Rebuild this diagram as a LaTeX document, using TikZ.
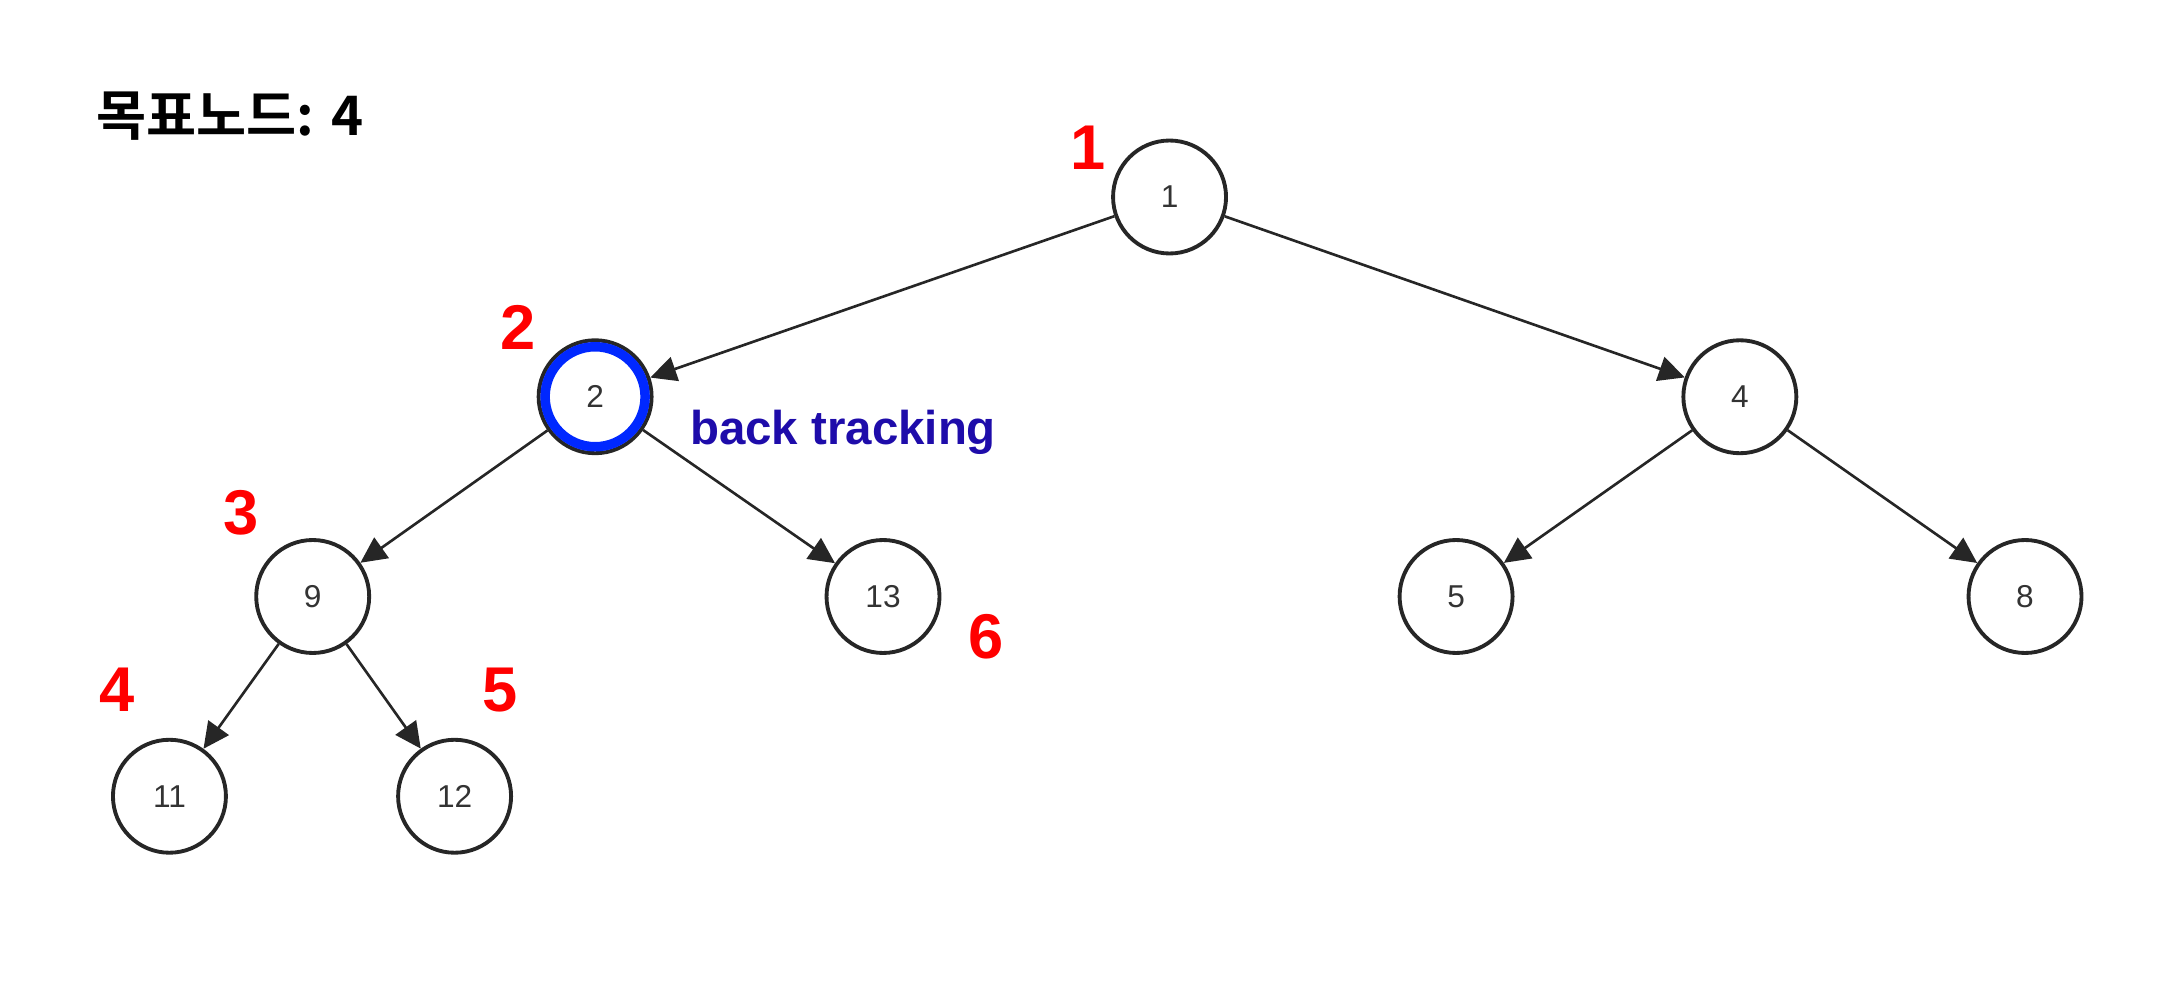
\documentclass[tikz,border=0pt]{standalone}
\usepackage{fontspec}
\setmainfont{Liberation Sans}
\newfontfamily\krfont{Noto Sans CJK KR Bold}
\usetikzlibrary{arrows.meta}
\definecolor{trackblue}{RGB}{30,12,170}
\definecolor{ringblue}{RGB}{0,40,255}

\begin{document}
\begin{tikzpicture}
    [x=0.013776cm,y=-0.013776cm,
    tree node/.style={circle,draw=black!85,line width=1.1pt,
    inner sep=0pt,minimum size=1.13cm,font=\fontsize{9}{9}\selectfont,text=black!80},
    order/.style={text=red,font=\bfseries\fontsize{18}{18}\selectfont},
    edge/.style={draw=black!85,line width=0.75pt,
    -{Triangle[length=0.26cm,width=0.25cm]}}]
    \useasboundingbox (0,0) rectangle (1568,723);
    % title
    \node (goal) [anchor=base west,font=\krfont\fontsize{15.5}{15.5}\selectfont] at (61,98) {목표노드: 4};
    % tree
    \node (node 1) [tree node] at (849,143) {1};
    \node (node 2) [tree node] at (432,288) {2};
    \node (node 4) [tree node] at (1263,288) {4};
    \node (node 9) [tree node] at (227,433) {9};
    \node (node 13) [tree node] at (641,433) {13};
    \node (node 5) [tree node] at (1057,433) {5};
    \node (node 8) [tree node] at (1470,433) {8};
    \node (node 11) [tree node] at (123,578) {11};
    \node (node 12) [tree node] at (330,578) {12};
    \draw [ringblue,line width=2.7pt] (node 2.center) circle [radius=0.5cm];
    \draw [edge] (node 1) -- (node 2);
    \draw [edge] (node 1) -- (node 4);
    \draw [edge] (node 2) -- (node 9);
    \draw [edge] (node 2) -- (node 13);
    \draw [edge] (node 4) -- (node 5);
    \draw [edge] (node 4) -- (node 8);
    \draw [edge] (node 9) -- (node 11);
    \draw [edge] (node 9) -- (node 12);
    % visiting order
    \node (order 1) [order] at (790,107) {1};
    \node (order 2) [order] at (376,238) {2};
    \node (order 3) [order] at (175,372) {3};
    \node (order 4) [order] at (85,501) {4};
    \node (order 5) [order] at (363,501) {5};
    \node (order 6) [order] at (716,462) {6};
    \node (back label) [anchor=base west,text=trackblue,
    font=\bfseries\fontsize{13.5}{13.5}\selectfont] at (492,323) {back tracking};
\end{tikzpicture}
\end{document}
